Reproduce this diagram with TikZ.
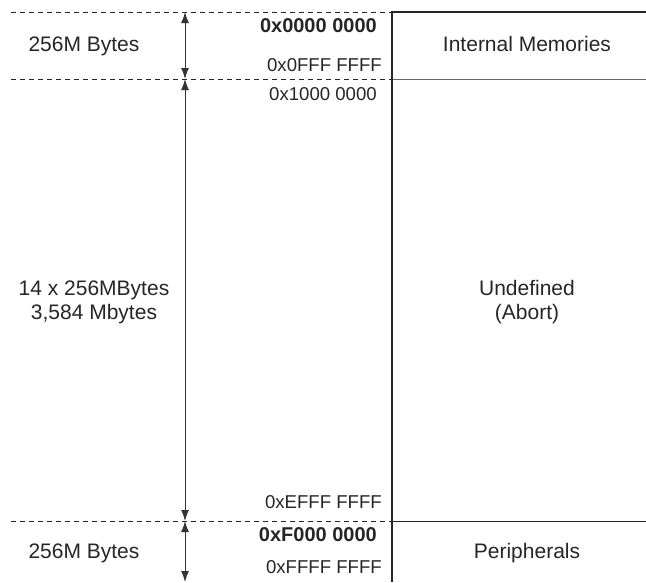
\documentclass[tikz,border=0pt]{standalone}
\usepackage{fontspec}
\setmainfont{Liberation Sans}
\usetikzlibrary{arrows.meta}
\begin{document}
\begin{tikzpicture}[x=1pt,y=-1pt]
% Configuración de estilos
\tikzstyle{etiqueta} = [font=\fontsize{21}{24}\selectfont, text=black!85, inner sep=0pt, align=center, anchor=base]
\tikzstyle{direccion} = [font=\fontsize{18.6}{22}\selectfont, text=black!85, inner sep=0pt, anchor=base east]
\tikzstyle{inicio} = [direccion, font=\fontsize{20}{22}\selectfont\bfseries]
\tikzstyle{limite} = [dash pattern=on 5pt off 4pt, line width=0.8pt, black!85]
\tikzstyle{cota} = [{Latex[length=11pt,width=8pt]}-{Latex[length=11pt,width=8pt]}, line width=1pt, black!80]

\useasboundingbox (0,0) rectangle (646,582);

% Puntos de los límites
\coordinate (izq0) at (11,12);
\coordinate (izq1) at (11,79);
\coordinate (izq2) at (11,521);
\coordinate (caja0) at (392,12);
\coordinate (caja1) at (392,79);
\coordinate (caja2) at (392,521);
\coordinate (caja3) at (392,582);
\coordinate (der0) at (646,12);
\coordinate (der1) at (646,79);
\coordinate (der2) at (646,521);
\coordinate (cota0) at (185,12);
\coordinate (cota1) at (185,79);
\coordinate (cota2) at (185,521);
\coordinate (cota3) at (185,582);

% Límites de las regiones
\draw[limite] (izq0) -- (caja0);
\draw[limite] (izq1) -- (caja1);
\draw[limite] (izq2) -- (caja2);
\draw[line width=1pt, black!60] (caja1) -- (der1);
\draw[line width=1pt, black!85] (caja2) -- (der2);
\draw[line width=2pt, black!85] (der0) -- (caja0) -- (caja3);

% Cotas
\draw[cota] (cota0) -- (cota1);
\draw[cota] (cota1) -- (cota2);
\draw[cota] (cota2) -- (cota3);

% Tamaños
\node[etiqueta] (tam0) at (84,51) {256M Bytes};
\node[etiqueta] (tam1) at (94,319) {14 x 256MBytes\\3,584 Mbytes};
\node[etiqueta] (tam2) at (84,558) {256M Bytes};

% Regiones
\node[etiqueta] (internas) at (527,51) {Internal Memories};
\node[etiqueta] (indefinida) at (527,319) {Undefined\\(Abort)};
\node[etiqueta] (perifericos) at (527,558) {Peripherals};

% Direcciones
\node[inicio] (dir0) at (377,32) {0x0000 0000};
\node[direccion] (dir1) at (382,71) {0x0FFF FFFF};
\node[direccion] (dir2) at (377,100) {0x1000 0000};
\node[direccion] (dir3) at (382,508) {0xEFFF FFFF};
\node[inicio] (dir4) at (377,541) {0xF000 0000};
\node[direccion] (dir5) at (382,573) {0xFFFF FFFF};
\end{tikzpicture}
\end{document}
